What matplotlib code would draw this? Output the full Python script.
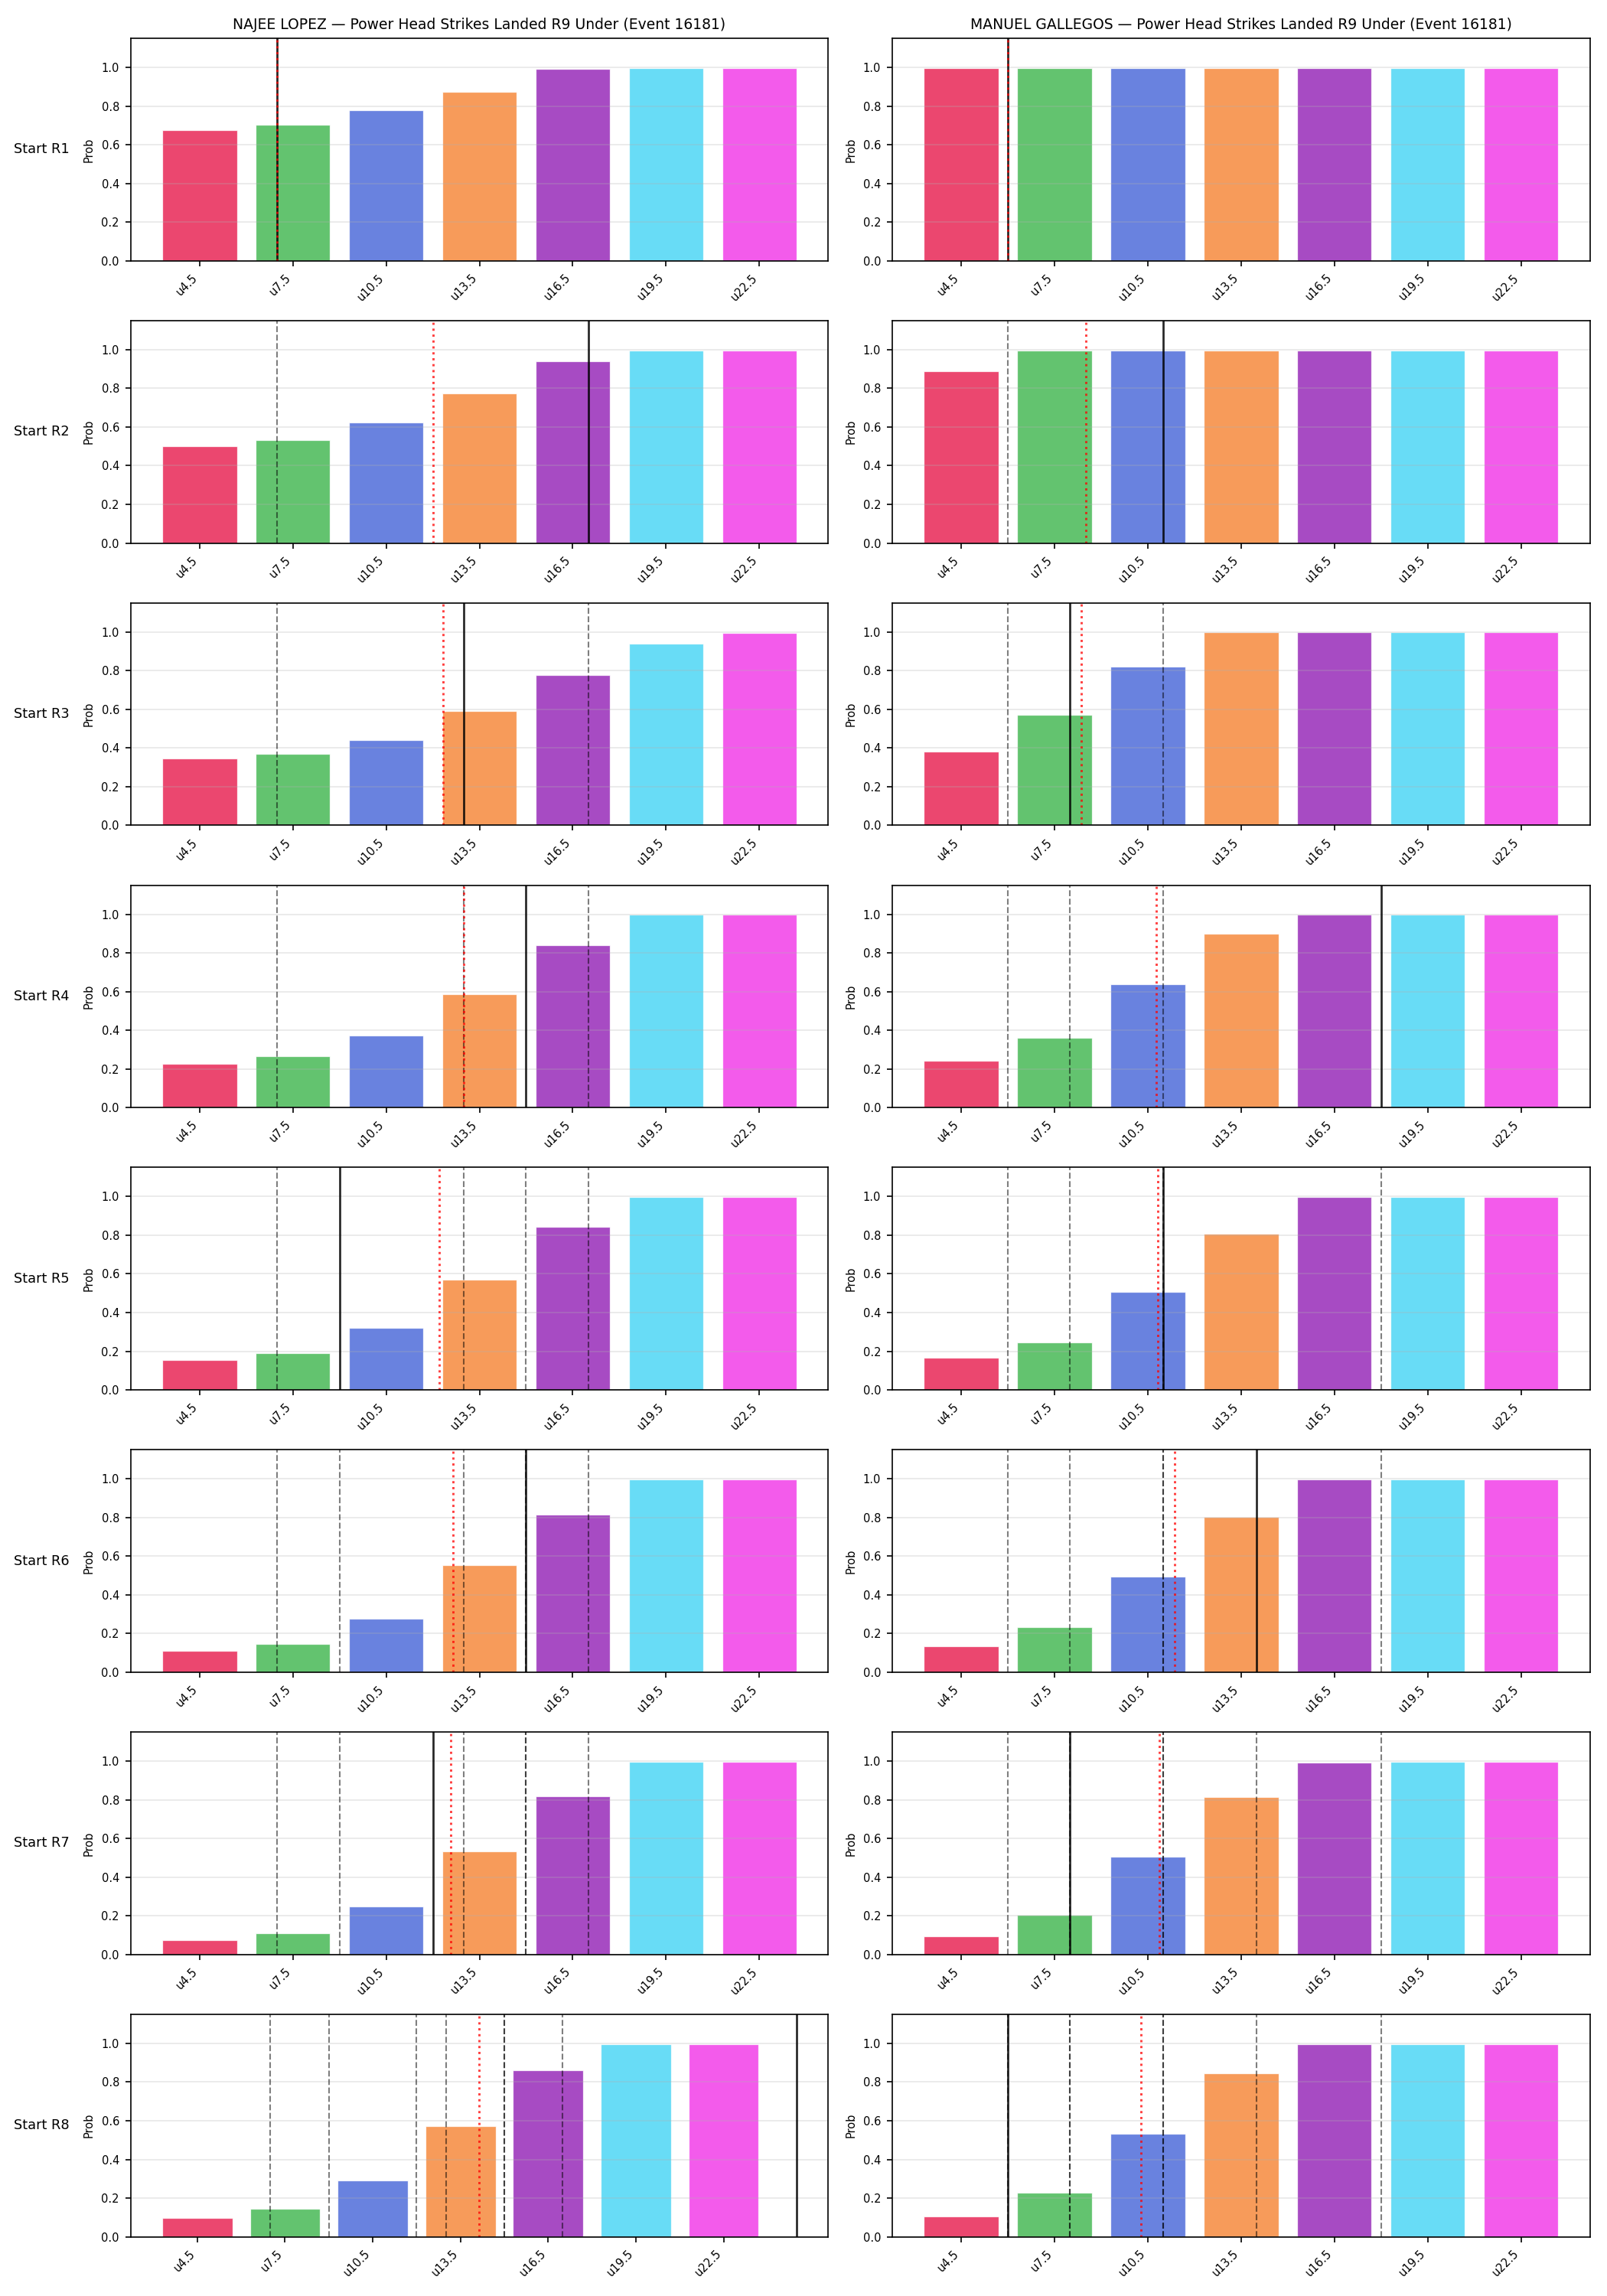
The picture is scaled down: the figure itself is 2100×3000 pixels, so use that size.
import matplotlib
matplotlib.use('Agg')
import matplotlib.pyplot as plt
import numpy as np

# 盘口与颜色
lines = ['u4.5', 'u7.5', 'u10.5', 'u13.5', 'u16.5', 'u19.5', 'u22.5']
line_vals = [4.5, 7.5, 10.5, 13.5, 16.5, 19.5, 22.5]
colors = ['#e6194B', '#3cb44b', '#4363d8', '#f58231', '#911eb4', '#42d4f4', '#f032e6']
fighters = ['NAJEE LOPEZ', 'MANUEL GALLEGOS']
starts = ['Start R1', 'Start R2', 'Start R3', 'Start R4',
          'Start R5', 'Start R6', 'Start R7', 'Start R8']

# 各起始回合的 under 概率
probs_lopez = [
    [0.676, 0.704, 0.779, 0.874, 0.993, 0.997, 0.997],
    [0.502, 0.534, 0.625, 0.775, 0.942, 0.997, 0.997],
    [0.347, 0.370, 0.439, 0.593, 0.779, 0.938, 0.996],
    [0.228, 0.265, 0.374, 0.587, 0.840, 0.998, 0.998],
    [0.154, 0.189, 0.320, 0.572, 0.843, 0.996, 0.996],
    [0.110, 0.145, 0.276, 0.554, 0.814, 0.996, 0.996],
    [0.074, 0.110, 0.248, 0.533, 0.819, 0.996, 0.996],
    [0.099, 0.146, 0.292, 0.572, 0.859, 0.997, 0.997],
]
probs_gallegos = [
    [0.997, 0.997, 0.997, 0.997, 0.997, 0.997, 0.997],
    [0.890, 0.997, 0.997, 0.997, 0.997, 0.997, 0.997],
    [0.382, 0.573, 0.819, 0.997, 0.997, 0.997, 0.997],
    [0.243, 0.363, 0.638, 0.899, 0.998, 0.998, 0.998],
    [0.166, 0.244, 0.505, 0.807, 0.996, 0.996, 0.996],
    [0.133, 0.232, 0.494, 0.804, 0.996, 0.996, 0.996],
    [0.094, 0.204, 0.505, 0.813, 0.992, 0.996, 0.996],
    [0.107, 0.228, 0.533, 0.847, 0.997, 0.997, 0.997],
]
# 实际值(黑实线)与预测值(红点线)，灰虚线为之前回合的实际值
actual_lopez = [7, 17, 13, 15, 9, 15, 12, 25]
actual_gallegos = [6, 11, 8, 18, 11, 14, 8, 6]
pred_lopez = [7, 12, 12.33, 13.0, 12.2, 12.66, 12.57, 14.13]
pred_gallegos = [6, 8.5, 8.36, 10.78, 10.82, 11.36, 10.88, 10.28]

probs = [probs_lopez, probs_gallegos]
actual = [actual_lopez, actual_gallegos]
pred = [pred_lopez, pred_gallegos]


def to_pos(v):
    # 数值 -> 柱子索引坐标
    return (v - line_vals[0]) / (line_vals[1] - line_vals[0])


fig, axes = plt.subplots(8, 2, figsize=(14, 20), dpi=150)
x = np.arange(len(lines))

for c in range(2):
    for r in range(8):
        ax = axes[r, c]
        ax.bar(x, probs[c][r], width=0.8, color=colors, alpha=0.8,
               edgecolor='white', linewidth=0.6)
        for v in actual[c][:r]:
            ax.axvline(to_pos(v), color='black', linestyle='--', linewidth=1.0, alpha=0.5)
        ax.axvline(to_pos(actual[c][r]), color='black', linewidth=1.3, alpha=0.85)
        ax.axvline(to_pos(pred[c][r]), color='red', linestyle=':', linewidth=1.4, alpha=0.75)
        ax.set_ylim(0, 1.15)
        ax.set_xticks(x)
        ax.set_xticklabels(lines, rotation=45, ha='right', fontsize=7)
        ax.tick_params(axis='y', labelsize=7)
        ax.set_ylabel('Prob', fontsize=7)
        ax.grid(axis='y', alpha=0.3)
        if r == 0:
            ax.set_title(f'{fighters[c]} — Power Head Strikes Landed R9 Under (Event 16181)',
                         fontsize=9)
        if c == 0:
            ax.text(-0.088, 0.5, starts[r], transform=ax.transAxes,
                    ha='right', va='center', fontsize=8.5)

plt.subplots_adjust(left=0.0812, right=0.9894, top=0.9833, bottom=0.0258,
                    hspace=0.269, wspace=0.0913)
plt.savefig('out.png', dpi=150)
